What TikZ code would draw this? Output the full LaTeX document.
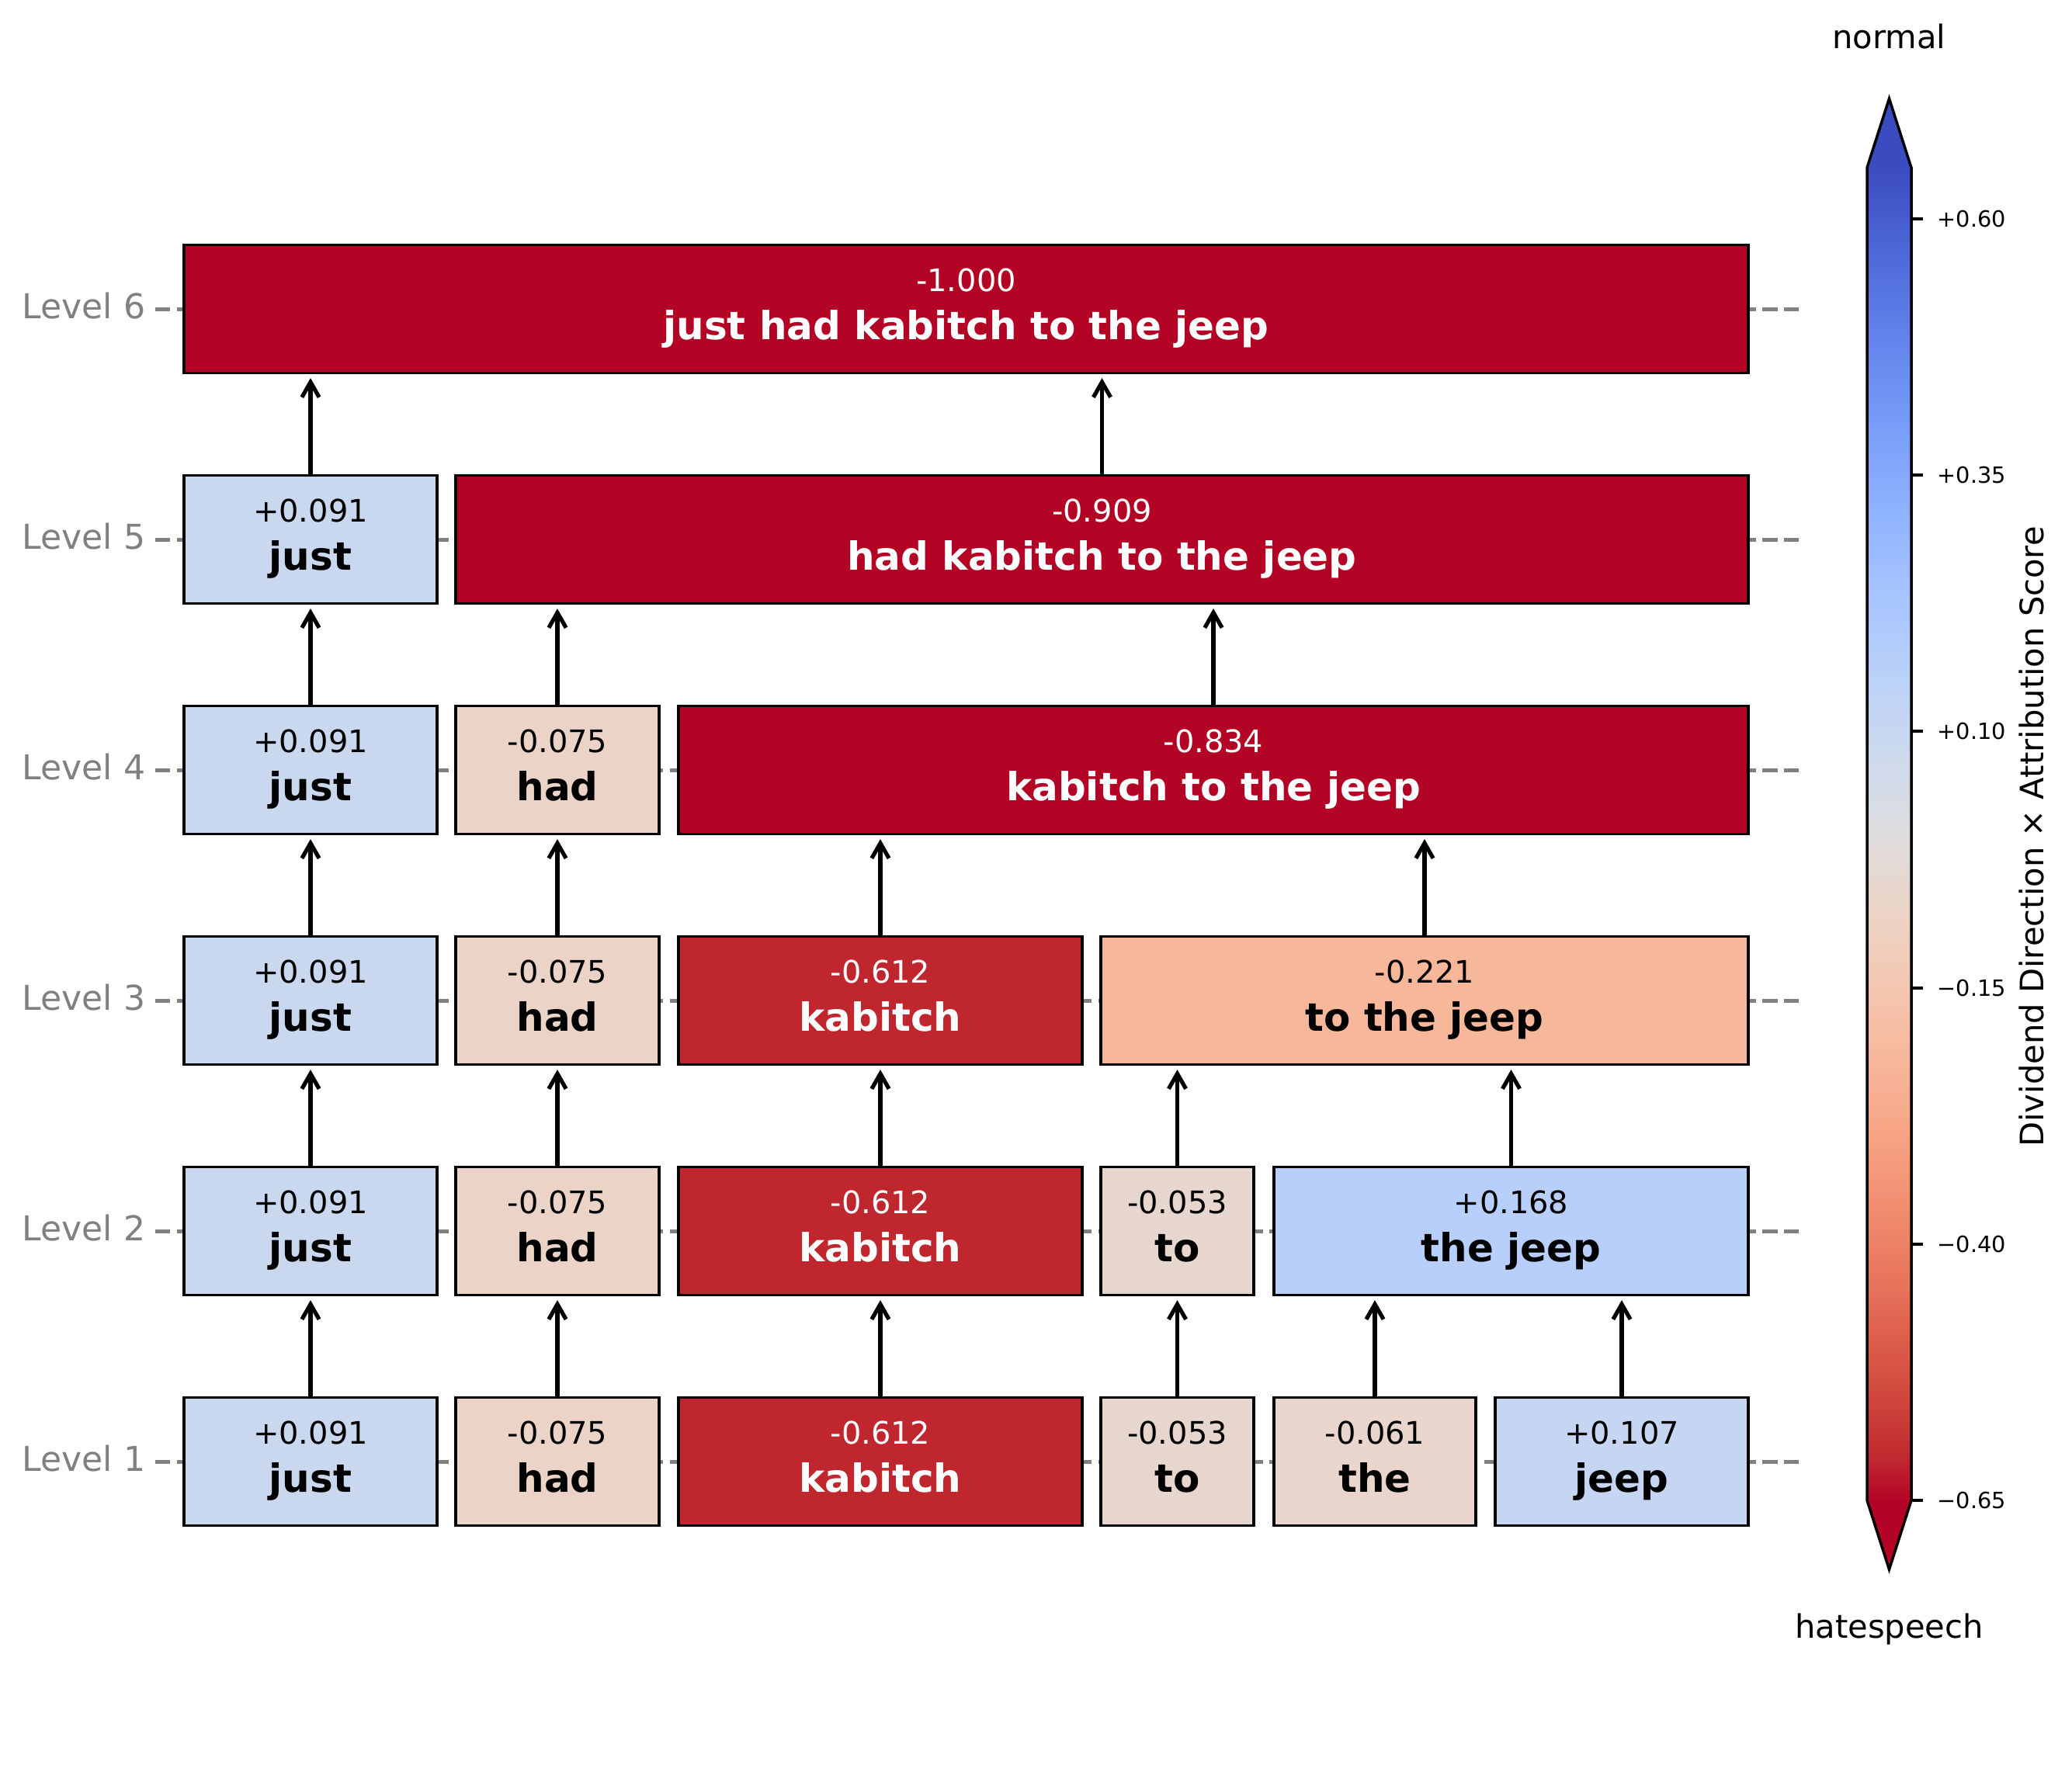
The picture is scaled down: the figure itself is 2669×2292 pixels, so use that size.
\documentclass[tikz,border=0pt]{standalone}
\usepackage{fontspec}
\setmainfont{DejaVu Sans}
\usetikzlibrary{arrows.meta}
\definecolor{cjust}{RGB}{202,216,239}
\definecolor{chad}{RGB}{235,212,199}
\definecolor{ckab}{RGB}{191,38,46}
\definecolor{cto}{RGB}{231,214,205}
\definecolor{cthe}{RGB}{233,213,203}
\definecolor{cjeep}{RGB}{198,214,242}
\definecolor{cthejeep}{RGB}{183,207,250}
\definecolor{ctothejeep}{RGB}{247,183,155}
\definecolor{cdeep}{RGB}{180,4,38}
\definecolor{lvlgray}{RGB}{128,128,128}
\definecolor{cw0}{RGB}{59,76,192}
\definecolor{cw1}{RGB}{68,90,204}
\definecolor{cw2}{RGB}{77,104,215}
\definecolor{cw3}{RGB}{87,117,225}
\definecolor{cw4}{RGB}{98,130,234}
\definecolor{cw5}{RGB}{108,142,241}
\definecolor{cw6}{RGB}{119,154,247}
\definecolor{cw7}{RGB}{130,165,251}
\definecolor{cw8}{RGB}{141,176,254}
\definecolor{cw9}{RGB}{152,185,255}
\definecolor{cw10}{RGB}{163,194,255}
\definecolor{cw11}{RGB}{174,201,253}
\definecolor{cw12}{RGB}{184,208,249}
\definecolor{cw13}{RGB}{194,213,244}
\definecolor{cw14}{RGB}{204,217,238}
\definecolor{cw15}{RGB}{213,219,230}
\definecolor{cw16}{RGB}{221,221,221}
\definecolor{cw17}{RGB}{229,216,209}
\definecolor{cw18}{RGB}{236,211,197}
\definecolor{cw19}{RGB}{241,204,185}
\definecolor{cw20}{RGB}{245,196,173}
\definecolor{cw21}{RGB}{247,187,160}
\definecolor{cw22}{RGB}{247,177,148}
\definecolor{cw23}{RGB}{247,166,135}
\definecolor{cw24}{RGB}{244,154,123}
\definecolor{cw25}{RGB}{241,141,111}
\definecolor{cw26}{RGB}{236,127,99}
\definecolor{cw27}{RGB}{229,112,88}
\definecolor{cw28}{RGB}{222,96,77}
\definecolor{cw29}{RGB}{213,80,66}
\definecolor{cw30}{RGB}{203,62,56}
\definecolor{cw31}{RGB}{192,40,47}
\definecolor{cw32}{RGB}{180,4,38}
% name, x1, x2, yc, fill, textcolour, value, word
\newcommand{\tokbox}[8]{%
  \node[tokenbox, fill=#5, minimum width={(#3-#2)*0.288pt}] (#1) at ({(#2+#3)/2},#4) {};
  \node[valtxt, text=#6] (#1v) at ([yshift=6.62pt]#1.center) {#7};
  \node[wordtxt, text=#6] (#1w) at ([yshift=-11.23pt]#1.center) {#8};
}
\begin{document}
\begin{tikzpicture}[x=0.288pt,y=-0.288pt,
  tokenbox/.style={draw=black, line width=0.9pt, rectangle, inner sep=0pt, minimum height=165*0.288pt},
  valtxt/.style={font=\fontsize{11.5}{13}\selectfont, inner sep=0pt, anchor=base},
  wordtxt/.style={font=\fontsize{14.4}{16}\selectfont\bfseries, inner sep=0pt, anchor=base},
  lvltxt/.style={font=\fontsize{12.7}{15}\selectfont, text=lvlgray, inner sep=0pt, anchor=base east},
  lvlline/.style={draw=lvlgray, line width=1.44pt, dash pattern=on 5.55pt off 2.4pt},
  arr/.style={line width=1.5pt, -{Straight Barb[length=5.6pt,width=6.4pt]}, shorten >=1.44pt},
  cbtick/.style={font=\fontsize{8.3}{10}\selectfont, inner sep=0pt, anchor=base west},
  cbtxt/.style={font=\fontsize{12}{14}\selectfont, inner sep=0pt, anchor=base}]
\useasboundingbox (0,0) rectangle (2669,2292);
\fill[white] (0,0) rectangle (2669,2292);
% level guide lines and labels
\foreach \lv/\yc in {1/1883,2/1586,3/1289,4/992,5/695,6/398}{
  \coordinate (lvl\lv L) at (200,\yc);
  \coordinate (lvl\lv R) at (2320,\yc);
  \draw[lvlline] (lvl\lv L) -- (lvl\lv R);
  \node[lvltxt] (lvl\lv t) at (188,\yc+12.7) {Level \lv};
}
% Level 1
\tokbox{a1}{237}{563}{1883}{cjust}{black}{+0.091}{just}
\tokbox{b1}{587}{849}{1883}{chad}{black}{-0.075}{had}
\tokbox{c1}{874}{1394}{1883}{ckab}{white}{-0.612}{kabitch}
\tokbox{d1}{1418}{1615}{1883}{cto}{black}{-0.053}{to}
\tokbox{e1}{1641}{1901}{1883}{cthe}{black}{-0.061}{the}
\tokbox{f1}{1926}{2252}{1883}{cjeep}{black}{+0.107}{jeep}
% Level 2
\tokbox{a2}{237}{563}{1586}{cjust}{black}{+0.091}{just}
\tokbox{b2}{587}{849}{1586}{chad}{black}{-0.075}{had}
\tokbox{c2}{874}{1394}{1586}{ckab}{white}{-0.612}{kabitch}
\tokbox{d2}{1418}{1615}{1586}{cto}{black}{-0.053}{to}
\tokbox{g2}{1641}{2252}{1586}{cthejeep}{black}{+0.168}{the jeep}
% Level 3
\tokbox{a3}{237}{563}{1289}{cjust}{black}{+0.091}{just}
\tokbox{b3}{587}{849}{1289}{chad}{black}{-0.075}{had}
\tokbox{c3}{874}{1394}{1289}{ckab}{white}{-0.612}{kabitch}
\tokbox{h3}{1418}{2252}{1289}{ctothejeep}{black}{-0.221}{to the jeep}
% Level 4
\tokbox{a4}{237}{563}{992}{cjust}{black}{+0.091}{just}
\tokbox{b4}{587}{849}{992}{chad}{black}{-0.075}{had}
\tokbox{k4}{874}{2252}{992}{cdeep}{white}{-0.834}{kabitch to the jeep}
% Level 5
\tokbox{a5}{237}{563}{695}{cjust}{black}{+0.091}{just}
\tokbox{m5}{587}{2252}{695}{cdeep}{white}{-0.909}{had kabitch to the jeep}
% Level 6
\tokbox{z6}{237}{2252}{398}{cdeep}{white}{-1.000}{just had kabitch to the jeep}
% arrows
\foreach \c/\p in {a1/a2,b1/b2,c1/c2,d1/d2,e1/g2,f1/g2,
                   a2/a3,b2/b3,c2/c3,d2/h3,g2/h3,
                   a3/a4,b3/b4,c3/k4,h3/k4,
                   a4/a5,b4/m5,k4/m5,
                   a5/z6,m5/z6}{
  \draw[arr] (\c.north) -- (\c.north |- \p.south);
}
% colour bar
\foreach \j in {0,...,31}{
  \pgfmathtruncatemacro\jn{\j+1}
  \pgfmathsetmacro\ya{216+\j*53.65625}
  \pgfmathsetmacro\yb{216+\jn*53.65625}
  \shade[top color=cw\j, bottom color=cw\jn] (2405,\ya-0.6) rectangle (2462,\yb+0.6);
}
\fill[cw0] (2405,216.5) -- (2433.5,127) -- (2462,216.5) -- cycle;
\fill[cw32] (2405,1932.5) -- (2433.5,2022) -- (2462,1932.5) -- cycle;
\draw[line width=1pt, line join=miter] (2405,216) -- (2433.5,127) -- (2462,216) -- (2462,1933) -- (2433.5,2022) -- (2405,1933) -- cycle;
\foreach \yt/\lab in {282/+0.60,612/+0.35,942/+0.10,1273/−0.15,1603/−0.40,1933/−0.65}{
  \draw[line width=1pt] (2462,\yt) -- (2477,\yt);
  \node[cbtick] at (2495,\yt+10.5) {\lab};
}
\node[cbtxt] (normal) at (2433.5,62) {normal};
\node[cbtxt] (hate) at (2433.5,2110) {hatespeech};
\node[cbtxt, rotate=90] (cblabel) at (2632,1078) {Dividend Direction × Attribution Score};
\end{tikzpicture}
\end{document}
